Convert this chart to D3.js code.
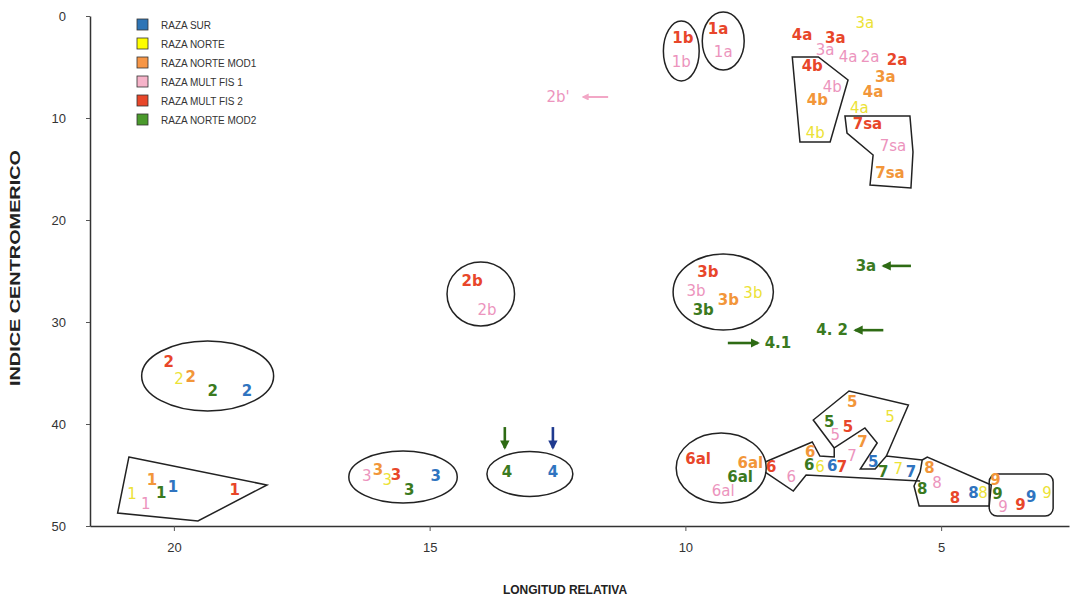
<!DOCTYPE html>
<html>
<head>
<meta charset="utf-8">
<script src="https://cdn.jsdelivr.net/npm/d3@7"></script>
<style>
  body { margin: 0; background: #fff; }
  #chart { width: 1074px; height: 600px; }
</style>
</head>
<body>
<div id="chart"></div>
<script>
//----------------------------------
// Data
//----------------------------------
const seriesNames = ["RAZA SUR", "RAZA NORTE", "RAZA NORTE MOD1", "RAZA MULT FIS 1", "RAZA MULT FIS 2", "RAZA NORTE MOD2"];
const seriesColors = ["#2f74c0", "#ece236", "#f2963a", "#ec94bd", "#e8462a", "#3b7a1f"];
const legendColors = ["#2e75b6", "#ffff00", "#f79646", "#f6b3c9", "#e8472a", "#4a9a2c"];
const seriesWeights = ["bold", "normal", "bold", "normal", "bold", "bold"];

const xTicks = [20, 15, 10, 5];
const yTicks = [0, 10, 20, 30, 40, 50];

// [label, longitud relativa, indice centromerico]
const razaSur = [
  ["1", 20.02, 46.18], ["2", 18.57, 36.76], ["3", 14.88, 45.10], ["4", 12.59, 44.71],
  ["6", 7.13, 44.12], ["5", 6.33, 43.73], ["7", 5.59, 44.71], ["8", 4.37, 46.76], ["9", 3.24, 47.16]
];
const razaNorte = [
  ["1", 20.82, 46.86], ["2", 19.90, 35.59], ["3", 15.83, 45.49], ["3b", 8.68, 27.16],
  ["3a", 6.49, 0.69], ["4a", 6.60, 9.02], ["4b", 7.46, 11.47], ["6", 7.37, 44.22],
  ["5", 6.00, 39.31], ["7", 5.84, 44.41], ["8", 4.18, 46.76], ["9", 2.93, 46.76]
];
const razaNorteMod1 = [
  ["1", 20.43, 45.49], ["2", 19.67, 35.39], ["3", 16.01, 44.51], ["3b", 9.16, 27.84],
  ["3a", 6.09, 5.98], ["4a", 6.33, 7.45], ["4b", 7.42, 8.24], ["7sa", 6.00, 15.39],
  ["6al", 8.73, 43.82], ["6", 7.56, 42.75], ["7", 6.54, 41.76], ["5", 6.74, 37.84],
  ["8", 5.23, 44.31], ["9", 3.94, 45.49]
];
const razaMultFis1 = [
  ["1", 20.55, 47.84], ["3", 16.23, 45.10], ["2b", 13.88, 28.82], ["2b'", 12.49, 7.94],
  ["1b", 10.08, 4.50], ["1a", 9.26, 3.53], ["3b", 9.79, 26.96], ["3a", 7.27, 3.33],
  ["4a", 6.82, 4.02], ["2a", 6.39, 4.02], ["4b", 7.13, 6.96], ["7sa", 5.94, 12.75],
  ["6al", 9.26, 46.57], ["6", 7.93, 45.20], ["7", 6.74, 43.14], ["5", 7.07, 41.08],
  ["8", 5.08, 45.78], ["9", 3.79, 48.14]
];
const razaMultFis2 = [
  ["1", 18.81, 46.47], ["2", 20.10, 33.92], ["3", 15.66, 45.00], ["2b", 14.17, 25.98],
  ["1b", 10.05, 2.16], ["1a", 9.36, 1.27], ["3b", 9.56, 25.10], ["4a", 7.72, 1.86],
  ["3a", 7.07, 2.16], ["2a", 5.86, 4.31], ["4b", 7.52, 4.90], ["7sa", 6.44, 10.59],
  ["6al", 9.75, 43.43], ["6", 8.32, 44.22], ["7", 6.94, 44.22], ["5", 6.82, 40.29],
  ["8", 4.73, 47.25], ["9", 3.45, 47.94]
];
const razaNorteMod2 = [
  ["1", 20.25, 46.76], ["2", 19.24, 36.76], ["3", 15.40, 46.47], ["4", 13.49, 44.71],
  ["3b", 9.65, 28.82], ["3a", 6.47, 24.50], ["4. 2", 7.13, 30.80], ["4.1", 8.19, 32.06],
  ["6al", 8.93, 45.20], ["6", 7.58, 44.02], ["5", 7.19, 39.80], ["7", 6.13, 44.71],
  ["8", 5.37, 46.37], ["9", 3.90, 46.86]
];
const allSeries = [razaSur, razaNorte, razaNorteMod1, razaMultFis1, razaMultFis2, razaNorteMod2];

// grouping outlines: ellipses [cx, cy, rx, ry]
const groupEllipses = [
  [10.08, 3.43, 0.35, 2.94], [9.26, 2.45, 0.41, 2.84], [14.0, 27.25, 0.66, 3.14],
  [9.26, 27.06, 0.98, 3.73], [19.34, 35.29, 1.29, 3.43], [15.52, 45.2, 1.06, 2.55],
  [13.04, 44.9, 0.84, 2.2], [9.30, 44.31, 0.88, 3.43]
];
// closed polygons
const groupPolygons = [
  [[20.88, 43.24], [18.18, 45.98], [19.53, 49.51], [21.10, 48.73]],
  [[7.91, 4.02], [7.40, 4.02], [6.82, 6.27], [7.17, 12.35], [7.76, 12.35]],
  [[6.88, 9.80], [5.61, 9.80], [5.55, 13.33], [5.59, 16.86], [6.39, 16.57], [6.33, 13.63], [6.84, 11.47]],
  [[5.37, 43.53], [5.27, 43.24], [4.02, 45.98], [4.06, 48.04], [5.43, 48.04], [5.53, 46.08], [5.41, 44.71]]
];
// open outline pieces (5, 6, 7 groups)
const groupLines = [
  [[8.44, 43.73], [7.52, 41.76], [7.37, 43.14], [7.09, 43.24], [7.09, 42.35], [6.49, 40.39], [6.25, 41.86],
   [6.58, 44.41], [6.29, 44.41], [6.07, 43.14], [5.37, 43.53]],
  [[8.44, 44.71], [7.89, 46.57], [7.64, 45.0], [5.41, 45.59]],
  [[7.09, 42.35], [7.50, 39.61], [6.80, 36.76], [5.64, 38.14], [6.07, 43.14]]
];
// rounded box around the 9s: [x0, y0, x1, y1]
const groupBox = [4.06, 44.9, 2.81, 49.02];

// arrows: [x1, y1, x2, y2, colour]
const arrows = [
  [11.51, 7.94, 12.0, 7.94, "#f2a7c6"],
  [5.59, 24.5, 6.13, 24.5, "#2e6b14"],
  [6.13, 30.8, 6.68, 30.8, "#2e6b14"],
  [9.17, 32.06, 8.58, 32.06, "#2e6b14"],
  [13.53, 40.3, 13.53, 42.35, "#2e6b14"],
  [12.59, 40.3, 12.59, 42.35, "#1f3a8f"]
];

//----------------------------------
// SVG Section
//----------------------------------
const W = 1074, H = 600;
const svg = d3.select("#chart").append("svg")
    .attr("width", W).attr("height", H)
    .style("font-family", "'DejaVu Sans', Verdana, sans-serif");

const xScale = d3.scaleLinear().domain([21.64, 2.5]).range([90, 1069]);
const yScale = d3.scaleLinear().domain([0, 50]).range([16, 526]);

// Axes
const xAxis = svg.append("g")
    .attr("transform", `translate(0,${yScale(50)})`)
    .call(d3.axisBottom(xScale).tickValues(xTicks).tickSize(5).tickSizeOuter(0).tickPadding(12));
const yAxis = svg.append("g")
    .attr("transform", `translate(${xScale.range()[0]},0)`)
    .call(d3.axisLeft(yScale).tickValues(yTicks).tickSize(4).tickSizeOuter(0).tickPadding(20));

[xAxis, yAxis].forEach(ax => {
  ax.select(".domain").attr("stroke", "#333").attr("stroke-width", 1.5);
  ax.selectAll(".tick line").attr("stroke", "#555");
  ax.selectAll(".tick text")
    .attr("fill", "#333")
    .style("font-family", "'Liberation Sans Narrow', 'Liberation Sans', Arial, sans-serif")
    .style("font-size", "13px");
});

// Axis titles
svg.append("text")
    .attr("x", 565).attr("y", 594)
    .attr("text-anchor", "middle")
    .style("font-family", "'Liberation Sans Narrow', 'Liberation Sans', Arial, sans-serif")
    .style("font-size", "12px").style("font-weight", "bold")
    .attr("fill", "#222")
    .text("LONGITUD RELATIVA");

svg.append("text")
    .attr("transform", "rotate(-90)")
    .attr("x", -268).attr("y", 20)
    .attr("text-anchor", "middle")
    .attr("textLength", 236)
    .attr("lengthAdjust", "spacingAndGlyphs")
    .style("font-family", "'Liberation Sans Narrow', 'Liberation Sans', Arial, sans-serif")
    .style("font-size", "14px").style("font-weight", "bold")
    .attr("fill", "#222")
    .text("INDICE CENTROMERICO");

// Legend
const legend = svg.append("g").attr("transform", "translate(137,19)");
seriesNames.forEach((name, i) => {
  const row = legend.append("g").attr("transform", `translate(0,${i * 19})`);
  row.append("rect")
      .attr("width", 11).attr("height", 11)
      .attr("fill", legendColors[i])
      .attr("stroke", "#333").attr("stroke-width", 0.8);
  row.append("text")
      .attr("x", 24).attr("y", 9.5)
      .style("font-family", "'Liberation Sans Narrow', 'Liberation Sans', Arial, sans-serif")
      .style("font-size", "10px")
      .attr("fill", "#333")
      .text(name);
});

// Grouping outlines
const outline = svg.append("g")
    .attr("fill", "none").attr("stroke", "#222").attr("stroke-width", 1.5);

outline.selectAll("ellipse").data(groupEllipses).join("ellipse")
    .attr("cx", d => xScale(d[0]))
    .attr("cy", d => yScale(d[1]))
    .attr("rx", d => Math.abs(xScale(d[0] + d[2]) - xScale(d[0])))
    .attr("ry", d => yScale(d[1] + d[3]) - yScale(d[1]));

const line = d3.line().x(d => xScale(d[0])).y(d => yScale(d[1]));
outline.selectAll("path.poly").data(groupPolygons).join("path")
    .attr("class", "poly")
    .attr("d", d => line(d) + "Z");
outline.selectAll("path.open").data(groupLines).join("path")
    .attr("class", "open")
    .attr("d", d => line(d));
outline.append("rect")
    .attr("x", xScale(groupBox[0])).attr("y", yScale(groupBox[1]))
    .attr("width", xScale(groupBox[2]) - xScale(groupBox[0]))
    .attr("height", yScale(groupBox[3]) - yScale(groupBox[1]))
    .attr("rx", 8).attr("ry", 8);

// Arrows
const defs = svg.append("defs");
arrows.forEach((a, i) => {
  defs.append("marker")
      .attr("id", "head" + i)
      .attr("viewBox", "0 0 10 10")
      .attr("refX", 8).attr("refY", 5)
      .attr("markerWidth", i === 0 ? 3.5 : 3.6).attr("markerHeight", i === 0 ? 3.5 : 3.6)
      .attr("markerUnits", "strokeWidth")
      .attr("orient", "auto")
      .append("path").attr("d", "M0,0L10,5L0,10Z").attr("fill", a[4]);
  svg.append("line")
      .attr("x1", xScale(a[0])).attr("y1", yScale(a[1]))
      .attr("x2", xScale(a[2])).attr("y2", yScale(a[3]))
      .attr("stroke", a[4])
      .attr("stroke-width", i === 0 ? 2 : 2.6)
      .attr("marker-end", `url(#head${i})`);
});

// Labels for every series
allSeries.forEach((pts, s) => {
  svg.append("g").selectAll("text").data(pts).join("text")
      .attr("x", d => xScale(d[1]))
      .attr("y", d => yScale(d[2]))
      .attr("text-anchor", "middle")
      .attr("dominant-baseline", "central")
      .attr("fill", seriesColors[s])
      .style("font-size", "15px")
      .style("font-weight", seriesWeights[s])
      .text(d => d[0]);
});
</script>
</body>
</html>
